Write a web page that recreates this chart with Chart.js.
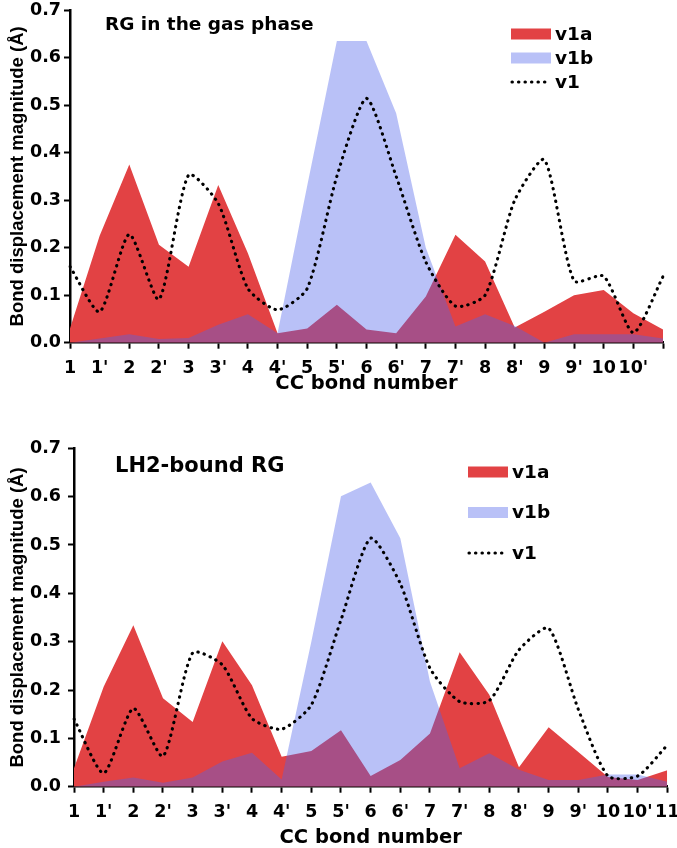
<!DOCTYPE html>
<html lang="en">
<head>
  <meta charset="UTF-8" />
  <title>Bond displacement magnitude</title>
  <script src="https://cdn.jsdelivr.net/npm/chart.js"></script>
  <style>
    body { margin: 0; background: #fff; }
    .panel { position: absolute; left: 0; }
  </style>
</head>
<body>
  <canvas id="chartGas" class="panel" width="677" height="400" style="top:0"></canvas>
  <canvas id="chartBound" class="panel" width="677" height="448" style="top:400px"></canvas>

  <script>
    // CC bonds along the chain
    const gasTicks   = ["1", "1'", "2", "2'", "3", "3'", "4", "4'", "5", "5'", "6", "6'", "7", "7'", "8", "8'", "9", "9'", "10", "10'", ""];
    const boundTicks = ["1", "1'", "2", "2'", "3", "3'", "4", "4'", "5", "5'", "6", "6'", "7", "7'", "8", "8'", "9", "9'", "10", "10'", "11"];
    const yTicks = [0, 0.1, 0.2, 0.3, 0.4, 0.5, 0.6, 0.7];

    // RG in the gas phase
    const gasV1a = [0.03, 0.225, 0.375, 0.206, 0.16, 0.332, 0.188, 0.02, 0.03, 0.08, 0.028, 0.02, 0.097, 0.227, 0.171, 0.032, 0.065, 0.1, 0.111, 0.062, 0.028];
    const gasV1b = [0, 0.009, 0.018, 0.008, 0.01, 0.038, 0.06, 0.02, 0.33, 0.635, 0.635, 0.483, 0.2, 0.034, 0.06, 0.035, 0, 0.018, 0.018, 0.018, 0.009];
    const gasV1  = [0.16, 0.065, 0.228, 0.091, 0.353, 0.293, 0.114, 0.069, 0.114, 0.35, 0.514, 0.35, 0.17, 0.077, 0.1, 0.3, 0.385, 0.13, 0.14, 0.021, 0.139];

    // LH2-bound RG
    const boundV1a = [0.038, 0.207, 0.334, 0.183, 0.134, 0.301, 0.21, 0.062, 0.074, 0.117, 0.022, 0.055, 0.11, 0.278, 0.19, 0.04, 0.123, 0.072, 0.02, 0.014, 0.034];
    const boundV1b = [0, 0.01, 0.019, 0.008, 0.019, 0.052, 0.07, 0.015, 0.3, 0.601, 0.629, 0.514, 0.217, 0.038, 0.069, 0.035, 0.014, 0.014, 0.025, 0.025, 0.01];
    const boundV1  = [0.14, 0.028, 0.162, 0.063, 0.277, 0.252, 0.141, 0.119, 0.169, 0.345, 0.514, 0.42, 0.245, 0.176, 0.178, 0.283, 0.328, 0.16, 0.022, 0.022, 0.086];

    const RED = 'rgb(226,66,68)';
    const BLUE = 'rgba(80,100,235,0.4)';
    const FONT = '"DejaVu Sans", sans-serif';

    Chart.defaults.font.family = FONT;
    Chart.defaults.font.weight = 'bold';
    Chart.defaults.color = '#000';

    // panel title + legend drawn inside the plot
    const panelDecor = {
      id: 'panelDecor',
      afterDraw(chart, args, opts) {
        const ctx = chart.ctx;
        ctx.save();
        ctx.fillStyle = '#000';
        ctx.textBaseline = 'middle';
        ctx.font = 'bold ' + opts.titleSize + 'px ' + FONT;
        ctx.fillText(opts.title, opts.titleX, opts.titleY);

        ctx.font = 'bold 18.5px ' + FONT;
        chart.data.datasets.forEach((ds, i) => {
          const y = opts.legendY + i * opts.legendGap;
          if (ds.fill) {
            ctx.fillStyle = ds.backgroundColor;
            ctx.fillRect(opts.legendX, y - 5.5, 40, 11);
          } else {
            ctx.strokeStyle = ds.borderColor;
            ctx.lineWidth = ds.borderWidth;
            ctx.lineCap = 'round';
            ctx.setLineDash(ds.borderDash);
            ctx.beginPath();
            ctx.moveTo(opts.legendX + 1, y);
            ctx.lineTo(opts.legendX + 38, y);
            ctx.stroke();
            ctx.setLineDash([]);
          }
          ctx.fillStyle = '#000';
          ctx.fillText(ds.label, opts.legendX + 44, y + 1);
        });
        ctx.restore();
      }
    };

    function buildChart(id, labels, dA, dB, dV, cfg) {
      return new Chart(document.getElementById(id), {
        type: 'line',
        data: {
          labels: labels,
          datasets: [
            { label: 'v1a', data: dA, fill: 'origin', backgroundColor: RED, borderColor: 'transparent', borderWidth: 0, pointRadius: 0, tension: 0, order: 3 },
            { label: 'v1b', data: dB, fill: 'origin', backgroundColor: BLUE, borderColor: 'transparent', borderWidth: 0, pointRadius: 0, tension: 0, order: 2 },
            { label: 'v1', data: dV, fill: false, borderColor: '#000', borderWidth: 3.1, borderDash: [0.4, 6.1], borderCapStyle: 'round', pointRadius: 0, tension: 0.22, order: 1 }
          ]
        },
        options: {
          responsive: false,
          animation: false,
          devicePixelRatio: 1,
          layout: { padding: { top: cfg.padTop, right: cfg.padRight, bottom: 0, left: 0 } },
          plugins: {
            legend: { display: false },
            tooltip: { enabled: false },
            panelDecor: cfg.decor
          },
          scales: {
            x: {
              offset: false,
              grid: { display: true, drawOnChartArea: false, drawTicks: true, tickLength: 6, tickWidth: 2, tickColor: '#000' },
              border: { display: true, color: '#000', width: 2.5 },
              ticks: { color: '#000', font: { size: 17.5, weight: 'bold' }, autoSkip: false, maxRotation: 0, padding: cfg.xTickPad },
              title: { display: true, text: 'CC bond number', color: '#000', font: { size: 19.5, weight: 'bold', lineHeight: 1 }, padding: { top: 0, bottom: cfg.xTitlePad } },
              afterFit: s => { s.height = cfg.xHeight; s.paddingLeft = 0; s.paddingRight = 0; }
            },
            y: {
              min: 0,
              max: 0.7,
              grid: { display: true, drawOnChartArea: false, drawTicks: true, tickLength: 6, tickWidth: 2, tickColor: '#000' },
              border: { display: true, color: '#000', width: 2.5 },
              afterBuildTicks: s => { s.ticks = yTicks.map(v => ({ value: v })); },
              ticks: { color: '#000', font: { size: 17.5, weight: 'bold' }, padding: cfg.yTickPad, callback: v => Number(v).toFixed(1) },
              title: { display: true, text: 'Bond displacement magnitude (Å)', color: '#000', font: { family: '"Liberation Sans", Arial, sans-serif', size: 18.5, weight: 'bold', lineHeight: 1 }, padding: { top: cfg.yTitlePad, bottom: 0 } },
              afterFit: s => { s.width = cfg.yWidth; s.paddingTop = 0; s.paddingBottom = 0; }
            }
          }
        },
        plugins: [panelDecor]
      });
    }

    buildChart('chartGas', gasTicks, gasV1a, gasV1b, gasV1, {
      padTop: 10, padRight: 14, yWidth: 70, xHeight: 57.3,
      xTickPad: 9, xTitlePad: 6, yTickPad: 3, yTitlePad: 9,
      decor: { title: 'RG in the gas phase', titleSize: 18.5, titleX: 105, titleY: 25, legendX: 511, legendY: 34, legendGap: 24 }
    });

    buildChart('chartBound', boundTicks, boundV1a, boundV1b, boundV1, {
      padTop: 48.3, padRight: 9.7, yWidth: 74, xHeight: 61.3,
      xTickPad: 9, xTitlePad: 0, yTickPad: 7, yTitlePad: 8.5,
      decor: { title: 'LH2-bound RG', titleSize: 21, titleX: 115, titleY: 67, legendX: 468, legendY: 72, legendGap: 40.5 }
    });
  </script>
</body>
</html>
